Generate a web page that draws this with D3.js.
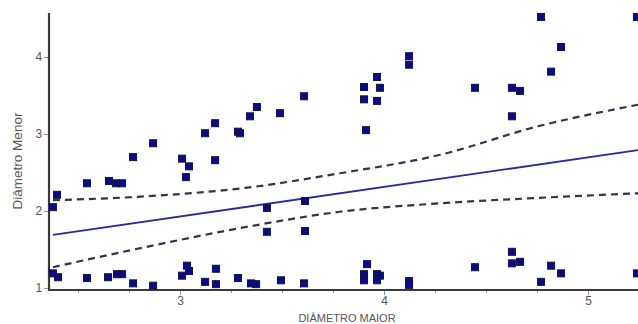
<!DOCTYPE html>
<html>
<head>
<meta charset="utf-8">
<script src="https://cdn.jsdelivr.net/npm/d3@7"></script>
<style>
	body { margin: 0; background: #fff; }
	svg { display: block; font-family: "Liberation Sans", Arial, sans-serif; }
</style>
</head>
<body>
<svg id="chart" width="638" height="324"></svg>
<script>
// scatter points (diametro maior, diametro menor)
const diamMaior = [
	2.377, 2.397, 2.544, 2.652, 2.686, 2.716, 2.770, 2.868, 3.010, 3.044, 3.029, 3.123,
	3.172, 3.172, 3.284, 3.294, 3.343, 3.377, 3.490, 3.608, 3.902, 3.902, 3.966, 3.980,
	3.966, 3.912, 4.123, 4.123, 4.770, 4.868, 4.819, 4.446, 4.627, 4.667, 4.627, 5.240,
	3.426, 3.426, 3.613, 3.613,
	2.377, 2.402, 2.544, 2.647, 2.691, 2.716, 2.770, 2.868, 3.010, 3.034, 3.044, 3.123,
	3.176, 3.176, 3.284, 3.348, 3.373, 3.495, 3.608, 3.917, 3.902, 3.902, 3.966, 3.966,
	3.980, 4.123, 4.123, 4.446, 4.627, 4.627, 4.667, 4.819, 4.868, 4.770, 5.240
]
const diamMenor = [
	2.05, 2.21, 2.36, 2.39, 2.36, 2.36, 2.70, 2.88, 2.68, 2.58, 2.44, 3.01,
	3.14, 2.66, 3.03, 3.01, 3.23, 3.35, 3.27, 3.49, 3.61, 3.45, 3.74, 3.60,
	3.43, 3.05, 4.01, 3.90, 4.52, 4.13, 3.81, 3.60, 3.60, 3.56, 3.23, 4.52,
	2.04, 1.73, 2.13, 1.74,
	1.19, 1.14, 1.13, 1.14, 1.18, 1.18, 1.06, 1.03, 1.16, 1.29, 1.22, 1.08,
	1.25, 1.05, 1.13, 1.06, 1.05, 1.10, 1.06, 1.31, 1.18, 1.10, 1.18, 1.10,
	1.16, 1.09, 1.04, 1.27, 1.47, 1.32, 1.34, 1.29, 1.19, 1.08, 1.19
]

// fitted line and confidence band
const fitX = [2.377, 5.245]
const fitY = [1.69, 2.79]
const bandX = [2.377, 2.828, 3.319, 3.784, 4.275, 4.755, 5.245]
const bandUpper = [2.14, 2.19, 2.30, 2.49, 2.73, 3.10, 3.38]
const bandLower = [1.27, 1.53, 1.79, 1.99, 2.10, 2.17, 2.23]

const xMajor = [3, 4, 5]
const xMinor = [2.5, 2.75, 3.25, 3.5, 3.75, 4.25, 4.5, 4.75, 5.25].filter(v => v <= 5.24)
const yMajor = [1, 2, 3, 4]

const svg = d3.select('#chart')

const x = d3.scaleLinear().domain([2.3578, 5.2451]).range([49, 638])
const y = d3.scaleLinear().domain([1, 4]).range([288, 57])

const axisColor = '#3a3a3a'
const labelColor = '#555'

// x axis
const gx = svg.append('g').attr('transform', 'translate(0,290)')
gx.call(d3.axisBottom(x).tickValues(xMajor).tickSize(5).tickFormat(d3.format('d')))
gx.append('g').call(d3.axisBottom(x).tickValues(xMinor).tickSize(3).tickFormat(''))
gx.selectAll('.domain').remove()
gx.selectAll('line').attr('stroke', '#999')
gx.selectAll('text').attr('fill', labelColor).attr('font-size', 12).attr('dy', '0.6em')
gx.append('line')
	.attr('x1', 48).attr('x2', 638)
	.attr('stroke', axisColor).attr('stroke-width', 2.2)

// y axis
const gy = svg.append('g').attr('transform', 'translate(49,0)')
gy.call(d3.axisLeft(y).tickValues(yMajor).tickSize(5).tickFormat(d3.format('d')))
gy.selectAll('.domain').remove()
gy.selectAll('line').attr('stroke', '#999')
gy.selectAll('text').attr('fill', labelColor).attr('font-size', 12).attr('dx', '0.1em')
gy.append('line')
	.attr('y1', 13).attr('y2', 291)
	.attr('stroke', axisColor).attr('stroke-width', 2.2)

// titles
svg.append('text')
	.attr('x', 347).attr('y', 322)
	.attr('text-anchor', 'middle')
	.attr('font-size', 11)
	.attr('fill', labelColor)
	.text('DIÂMETRO MAIOR')

svg.append('text')
	.attr('transform', 'translate(22,161) rotate(-90)')
	.attr('text-anchor', 'middle')
	.attr('font-size', 13.5)
	.attr('fill', labelColor)
	.text('Diâmetro Menor')

// confidence band
const line = d3.line().x(d => x(d[0])).y(d => y(d[1])).curve(d3.curveMonotoneX)
for (let band of [bandUpper, bandLower]) {
	svg.append('path')
		.datum(bandX.map((v, i) => [v, band[i]]))
		.attr('d', line)
		.attr('fill', 'none')
		.attr('stroke', '#34344a')
		.attr('stroke-width', 2.2)
		.attr('stroke-dasharray', '7,5')
}

// fit
svg.append('path')
	.datum(fitX.map((v, i) => [v, fitY[i]]))
	.attr('d', d3.line().x(d => x(d[0])).y(d => y(d[1])))
	.attr('fill', 'none')
	.attr('stroke', '#2a2aa0')
	.attr('stroke-width', 1.8)

// points
const s = 7
svg.append('g')
	.selectAll('rect')
	.data(diamMaior.map((v, i) => [v, diamMenor[i]]))
	.join('rect')
	.attr('x', d => x(d[0]) - s / 2)
	.attr('y', d => y(d[1]) - s / 2)
	.attr('width', s)
	.attr('height', s)
	.attr('fill', '#0a0a90')
	.attr('stroke', '#15153a')
	.attr('stroke-width', 1)
</script>
</body>
</html>
